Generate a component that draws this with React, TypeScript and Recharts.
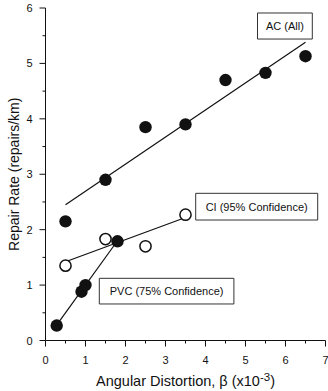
import { ComposedChart, Label, ReferenceArea, Scatter, XAxis, YAxis } from "recharts";

const acX = [0.5, 1.5, 2.5, 3.5, 4.5, 5.5, 6.5];
const acY = [2.15, 2.9, 3.85, 3.9, 4.7, 4.83, 5.13];
const ciX = [0.5, 1.5, 2.5, 3.5];
const ciY = [1.35, 1.83, 1.7, 2.27];
const pvcX = [0.28, 0.9, 1.0, 1.8];
const pvcY = [0.27, 0.88, 1.0, 1.79];

// fitted lines, two end points each
const acFitX = [0.5, 6.5];
const acFitY = [2.45, 5.38];
const ciFitX = [0.5, 3.5];
const ciFitY = [1.42, 2.22];
const pvcFitX = [0.3, 1.8];
const pvcFitY = [0.3, 1.8];

const xTicks = [0, 0.5, 1, 1.5, 2, 2.5, 3, 3.5, 4, 4.5, 5, 5.5, 6, 6.5, 7];
const yTicks = [0, 0.5, 1, 1.5, 2, 2.5, 3, 3.5, 4, 4.5, 5, 5.5, 6];

const font = "'Liberation Sans', Arial, sans-serif";
const ink = "#111";

const pts = (xs: number[], ys: number[]) => xs.map((x, i) => ({ x, y: ys[i] }));

const Dot = (filled: boolean) => (p: any) => (
  <circle
    cx={p.cx}
    cy={p.cy}
    r={filled ? 6.2 : 5.6}
    fill={filled ? ink : "#fff"}
    stroke={ink}
    strokeWidth={filled ? 0 : 1.5}
  />
);

const noShape = () => <g />;

const XTick = ({ x, y, payload }: any) => {
  const major = Number.isInteger(payload.value);
  return (
    <g>
      <line x1={x} x2={x} y1={y} y2={y + (major ? 6 : 3)} stroke={ink} />
      {major && (
        <text x={x} y={y + 23} textAnchor="middle" fontSize={11} fontFamily={font} fill={ink}>
          {payload.value}
        </text>
      )}
    </g>
  );
};

const YTick = ({ x, y, payload }: any) => {
  const major = Number.isInteger(payload.value);
  return (
    <g>
      <line x1={x} x2={x - (major ? 6 : 3)} y1={y} y2={y} stroke={ink} />
      {major && (
        <text x={x - 13} y={y + 4} textAnchor="end" fontSize={11} fontFamily={font} fill={ink}>
          {payload.value}
        </text>
      )}
    </g>
  );
};

const XTitle = ({ viewBox }: any) => {
  const cx = viewBox.x + viewBox.width / 2;
  return (
    <text x={cx} y={viewBox.y + 45} textAnchor="middle" fontSize={14.5} fontFamily={font} fill={ink}>
      Angular Distortion, β (x10
      <tspan dy={-5} fontSize={11.5}>-3</tspan>
      <tspan dy={5}>)</tspan>
    </text>
  );
};

const YTitle = ({ viewBox }: any) => {
  const cy = viewBox.y + viewBox.height / 2;
  return (
    <text
      x={19}
      y={cy}
      transform={`rotate(-90 19 ${cy})`}
      textAnchor="middle"
      fontSize={14}
      fontFamily={font}
      fill={ink}
    >
      Repair Rate (repairs/km)
    </text>
  );
};

const boxLabel = (value: string) => ({ value, position: "center" as const, fill: ink, fontSize: 11, fontFamily: font });

export default function App() {
  return (
    <div style={{ position: "absolute", left: 0, top: 0, background: "#fff" }}>
      <ComposedChart width={328} height={391} margin={{ top: 8, right: 2.5, left: 0.5, bottom: 0 }}>
        <XAxis
          type="number"
          dataKey="x"
          domain={[0, 7]}
          ticks={xTicks}
          interval={0}
          tickLine={false}
          tickSize={0}
          tickMargin={0}
          tick={XTick}
          axisLine={{ stroke: ink }}
          height={50.5}
        >
          <Label content={XTitle} />
        </XAxis>
        <YAxis
          type="number"
          dataKey="y"
          domain={[0, 6]}
          ticks={yTicks}
          interval={0}
          tickLine={false}
          tickSize={0}
          tickMargin={0}
          tick={YTick}
          axisLine={{ stroke: ink }}
          width={45}
        >
          <Label content={YTitle} />
        </YAxis>

        <Scatter data={pts(acFitX, acFitY)} line={{ stroke: ink, strokeWidth: 1.2 }} shape={noShape} isAnimationActive={false} />
        <Scatter data={pts(ciFitX, ciFitY)} line={{ stroke: ink, strokeWidth: 1.2 }} shape={noShape} isAnimationActive={false} />
        <Scatter data={pts(pvcFitX, pvcFitY)} line={{ stroke: ink, strokeWidth: 1.2 }} shape={noShape} isAnimationActive={false} />

        <Scatter data={pts(acX, acY)} shape={Dot(true)} isAnimationActive={false} />
        <Scatter data={pts(ciX, ciY)} shape={Dot(false)} isAnimationActive={false} />
        <Scatter data={pts(pvcX, pvcY)} shape={Dot(true)} isAnimationActive={false} />

        <ReferenceArea x1={5.3} x2={6.67} y1={5.44} y2={5.91} fill="#fff" fillOpacity={1} stroke="#333" label={boxLabel("AC (All)")} />
        <ReferenceArea x1={3.755} x2={6.805} y1={2.174} y2={2.656} fill="#fff" fillOpacity={1} stroke="#333" label={boxLabel("CI (95% Confidence)")} />
        <ReferenceArea x1={1.345} x2={4.71} y1={0.659} y2={1.122} fill="#fff" fillOpacity={1} stroke="#333" label={boxLabel("PVC (75% Confidence)")} />
      </ComposedChart>
    </div>
  );
}
